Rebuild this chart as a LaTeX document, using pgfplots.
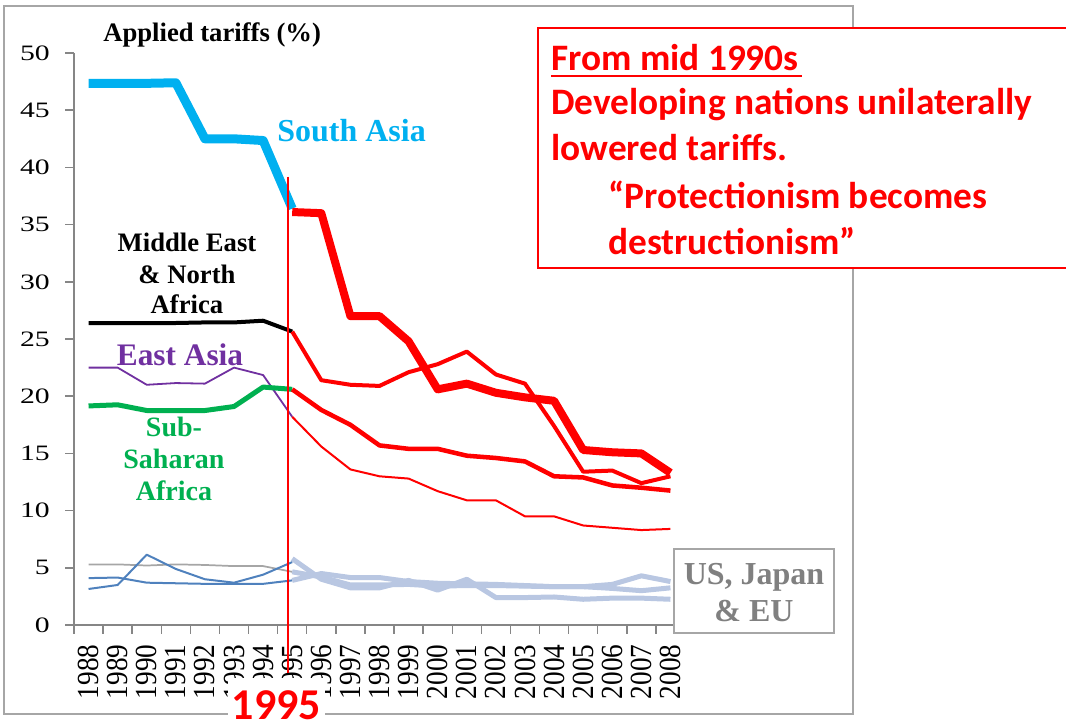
\documentclass[border=0pt]{standalone}
\usepackage{fontspec}
\setmainfont{Liberation Serif}
\newfontfamily\calib{Carlito}
\newfontfamily\ytf[FakeStretch=1.35]{Liberation Serif}
\newfontfamily\xtf[FakeStretch=0.89]{Liberation Serif}
\usepackage{pgfplots}
\pgfplotsset{compat=1.18}
\definecolor{sablue}{HTML}{00B0F0}
\definecolor{eapurple}{HTML}{7030A0}
\definecolor{ssagreen}{HTML}{00B050}
\definecolor{usblue}{HTML}{4F81BD}
\definecolor{usgray}{HTML}{A6A6A6}
\definecolor{uslight}{HTML}{B9C7E2}
\definecolor{axisgray}{HTML}{868686}
\definecolor{framegray}{HTML}{A6A6A6}
\definecolor{labgray}{HTML}{808080}
\definecolor{tred}{HTML}{FF0000}
\begin{document}
\begin{tikzpicture}
\path[use as bounding box] (0pt,0pt) rectangle (799.5pt,-544.5pt);
\begin{scope}[x=0.75pt,y=-0.75pt]
\draw[framegray, line width=1.1pt] (4,6) rectangle (853,714);
\end{scope}
\begin{axis}[
  at={(55.5pt,-468.75pt)}, anchor=south west,
  scale only axis, width=458.25pt, height=429pt,
  xmin=-0.5, xmax=20.5, ymin=0, ymax=50,
  clip=false,
  axis x line*=bottom, axis y line*=left,
  axis line style={draw=axisgray, line width=1.1pt, -},
  tick align=outside, major tick length=6.5pt,
  tick style={draw=axisgray, line width=1.1pt},
  ytick={0,5,...,50},
  /pgf/number format/assume math mode=true,
  yticklabel style={font=\ytf\fontsize{16.5}{18}\selectfont, anchor=east, inner sep=0pt, xshift=-11.5pt},
  xtick={-0.5,0.5,...,20.5}, xticklabels={},
  extra x ticks={0,1,...,20},
  extra x tick labels={1988,1989,1990,1991,1992,1993,1994,1995,1996,1997,1998,1999,2000,2001,2002,2003,2004,2005,2006,2007,2008},
  extra x tick style={major tick length=0pt, tick style={draw=none}},
  xticklabel shift=14.5pt,
  xticklabel style={rotate=90, anchor=east, inner sep=0pt, font=\xtf\fontsize{23}{24}\selectfont},
  every axis plot/.append style={line join=round, no markers},
]
% US, Japan & EU
\addplot[usgray, line width=1.3pt] coordinates {(0,5.3)(1,5.3)(2,5.2)(3,5.3)(4,5.25)(5,5.15)(6,5.15)(7,4.65)};
\addplot[usblue, line width=1.5pt] coordinates {(0,4.1)(1,4.15)(2,3.7)(3,3.65)(4,3.6)(5,3.6)(6,3.6)(7,3.9)};
\addplot[usblue, line width=1.5pt] coordinates {(0,3.15)(1,3.5)(2,6.15)(3,4.9)(4,4.0)(5,3.7)(6,4.4)(7,5.5)};
\addplot[uslight, line width=3.75pt] coordinates {(7,5.8)(8,4.0)(9,3.25)(10,3.25)(11,3.9)(12,3.05)(13,4.0)(14,2.4)(15,2.4)(16,2.45)(17,2.25)(18,2.35)(19,2.35)(20,2.25)};
\addplot[uslight, line width=3.75pt] coordinates {(7,3.9)(8,4.5)(9,4.15)(10,4.15)(11,3.8)(12,3.65)(13,3.6)(14,3.55)(15,3.45)(16,3.35)(17,3.35)(18,3.2)(19,3.0)(20,3.25)};
\addplot[uslight, line width=3.75pt] coordinates {(7,4.65)(8,4.2)(9,3.5)(10,3.5)(11,3.55)(12,3.4)(13,3.45)(14,3.45)(15,3.4)(16,3.35)(17,3.35)(18,3.55)(19,4.3)(20,3.8)};
% East Asia
\addplot[eapurple, line width=1.35pt] coordinates {(0,22.5)(1,22.5)(2,21.0)(3,21.15)(4,21.1)(5,22.5)(6,21.85)(7,18.2)};
\addplot[tred, line width=1.5pt] coordinates {(7,18.2)(8,15.6)(9,13.6)(10,13.0)(11,12.8)(12,11.7)(13,10.9)(14,10.9)(15,9.5)(16,9.5)(17,8.7)(18,8.5)(19,8.3)(20,8.4)};
% Sub-Saharan Africa
\addplot[ssagreen, line width=3.75pt] coordinates {(0,19.15)(1,19.25)(2,18.75)(3,18.75)(4,18.75)(5,19.1)(6,20.8)(7,20.6)};
\addplot[tred, line width=3.4pt] coordinates {(7,20.6)(8,18.8)(9,17.5)(10,15.7)(11,15.4)(12,15.4)(13,14.8)(14,14.6)(15,14.3)(16,13.0)(17,12.9)(18,12.2)(19,12.0)(20,11.75)};
% Middle East & North Africa
\addplot[black, line width=3pt] coordinates {(0,26.4)(1,26.4)(2,26.4)(3,26.4)(4,26.45)(5,26.45)(6,26.6)(7,25.65)};
\addplot[tred, line width=3pt] coordinates {(7,25.65)(8,21.4)(9,21.0)(10,20.9)(11,22.1)(12,22.8)(13,23.9)(14,21.9)(15,21.1)(16,17.4)(17,13.4)(18,13.5)(19,12.4)(20,13.0)};
% South Asia
\addplot[sablue, line width=6.75pt] coordinates {(0,47.35)(1,47.35)(2,47.35)(3,47.4)(4,42.5)(5,42.5)(6,42.35)(7,36.4)};
\addplot[tred, line width=6pt] coordinates {(7,36.1)(8,36.0)(9,27.0)(10,27.0)(11,24.8)(12,20.6)(13,21.1)(14,20.3)(15,19.9)(16,19.6)(17,15.3)(18,15.1)(19,15.0)(20,13.3)};
\draw[tred, line width=1.1pt] (axis cs:6.85,39.2) -- (axis cs:6.85,-4.2);
\end{axis}
\begin{scope}[x=0.75pt,y=-0.75pt]
\node[anchor=base west, inner sep=0pt, font=\fontsize{20}{24}\selectfont\bfseries] at (103,41) {Applied tariffs (\%)};
\node[anchor=base west, inner sep=0pt, text=sablue, font=\fontsize{24}{28}\selectfont\bfseries] at (277,141.7) {South Asia};
\begin{scope}[every node/.style={anchor=base, inner sep=0pt, font=\fontsize{20}{24}\selectfont\bfseries}]
\node at (187,251.7) {Middle East};
\node at (187,283.3) {\& North};
\node at (187,313) {Africa};
\end{scope}
\node[anchor=base, inner sep=0pt, text=eapurple, font=\fontsize{23.5}{28}\selectfont\bfseries] at (180,365) {East Asia};
\begin{scope}[every node/.style={anchor=base, inner sep=0pt, text=ssagreen, font=\fontsize{21}{24}\selectfont\bfseries}]
\node at (174,436) {Sub-};
\node at (174,468) {Saharan};
\node at (174,500) {Africa};
\end{scope}
\draw[framegray, line width=0.9pt, fill=white] (674,549) rectangle (834,633);
\begin{scope}[every node/.style={anchor=base, inner sep=0pt, text=labgray, font=\fontsize{24}{28}\selectfont\bfseries}]
\node at (754,584.3) {US, Japan};
\node at (754,621.7) {\& EU};
\end{scope}
\draw[tred, line width=0.9pt, fill=white] (538,28) rectangle (1075,268);
\begin{scope}[every node/.style={anchor=base west, inner sep=0pt, text=tred, font=\calib\fontsize{28}{33}\selectfont\bfseries}]
\node at (551,70) {From mid 1990s};
\node at (551,114.5) {Developing nations unilaterally};
\node at (551,160.7) {lowered tariffs.};
\node at (608,208.5) {“Protectionism becomes};
\node at (608,254.7) {destructionism”};
\end{scope}
\draw[tred, line width=2.2pt] (551,76) -- (802,76);
\node[anchor=base, fill=white, inner xsep=3pt, inner ysep=1pt, text height=30pt, text=tred, font=\calib\fontsize{33}{36}\selectfont\bfseries] at (276.5,719) {1995};
\end{scope}
\end{tikzpicture}
\end{document}
